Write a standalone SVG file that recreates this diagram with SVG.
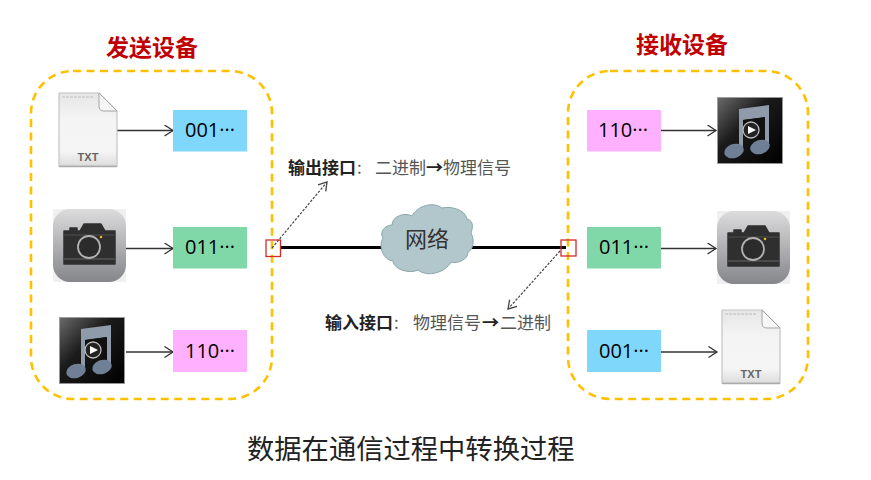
<svg xmlns="http://www.w3.org/2000/svg" width="871" height="480" viewBox="0 0 871 480">
<style>
.t{font-family:"Noto Sans CJK SC","Liberation Sans",sans-serif}
.h{font-size:23px;font-weight:700;fill:#c00000}
.l{font-size:17px;fill:#555}
.b{font-weight:700;fill:#222}
.n{font-family:"Open Sans","Liberation Sans",sans-serif;font-size:20px;fill:#000}
.box{fill:none;stroke:#ffc000;stroke-width:2.6;stroke-dasharray:8 5.5}
.a{fill:none;stroke:#333;stroke-width:1.4;marker-end:url(#ah)}
.d{fill:none;stroke:#444;stroke-width:1.2;stroke-dasharray:2.5 1.5;marker-end:url(#ahd)}
.r{fill:none;stroke:#d22b2b;stroke-width:1.3}
</style>
<defs>
<marker id="ah" markerUnits="userSpaceOnUse" markerWidth="12" markerHeight="14" refX="10" refY="6" orient="auto"><path d="M1.500 0.500L10 6L1.500 11.500" fill="none" stroke="#333" stroke-width="1.300"/></marker>
<marker id="ahd" markerUnits="userSpaceOnUse" markerWidth="12" markerHeight="14" refX="10" refY="6" orient="auto"><path d="M2 1L10 6L2 11" fill="none" stroke="#444" stroke-width="1.300"/></marker>
<linearGradient id="gf" x1="0" y1="0" x2="0" y2="1"><stop offset="0" stop-color="#e6e6e6"/><stop offset=".35" stop-color="#f4f4f4"/><stop offset=".8" stop-color="#f5f5f5"/><stop offset="1" stop-color="#dcdcdc"/></linearGradient>
<linearGradient id="gc" x1="0" y1="0" x2="0" y2="1"><stop offset="0" stop-color="#dcdcdd"/><stop offset="1" stop-color="#85868a"/></linearGradient>
<linearGradient id="gm" x1="0" y1="0" x2="1" y2="1"><stop offset="0" stop-color="#6a6a6a"/><stop offset=".4" stop-color="#1b1b1b"/><stop offset="1" stop-color="#000"/></linearGradient>
<symbol id="txt" viewBox="0 0 60 76" width="60" height="76" overflow="visible">
<path d="M1 1H41L59 19V74H1Z" fill="url(#gf)" stroke="#c4c4c4" stroke-width="1.200" stroke-linejoin="round"/>
<path d="M1 74.500H59" stroke="#aaa" stroke-width="1.500"/>
<path d="M41 1L59 19H46Q41 19 41 14Z" fill="#f6f6f6" stroke="#a5a5a5" stroke-width="1"/>
<path d="M4 5H36" stroke="#d3d3d3" stroke-width="2" stroke-dasharray="3 1"/>
<text x="30" y="69" text-anchor="middle" font-family="Liberation Sans,sans-serif" font-weight="700" font-size="11" fill="#666">TXT</text>
</symbol>
<symbol id="cam" viewBox="0 0 73 73" width="73" height="73" overflow="visible">
<rect width="73" height="73" fill="#f0f0f0"/>
<rect width="73" height="73" rx="17" fill="url(#gc)"/>
<path d="M11 22H17V19H24V22H27L31 15H48L52 22H62V55H11Z" fill="#2f2f2f" stroke="#2f2f2f" stroke-width="1.500" stroke-linejoin="round"/>
<path d="M11 50H62" stroke="#666" stroke-width="1"/><path d="M11 26H62" stroke="#555" stroke-width=".8"/>
<circle cx="36" cy="38" r="11" fill="#2b2b2b" stroke="#b2b2b2" stroke-width="1.800"/>
<circle cx="48" cy="28" r="1.300" fill="#e8b422"/>
</symbol>
<symbol id="mus" viewBox="0 0 66 67" width="66" height="67" overflow="visible">
<rect x=".5" y=".5" width="65" height="66" fill="url(#gm)" stroke="#999" stroke-width=".8"/>
<path d="M22 12L52 8V48H48V20L26 23V52H22Z" fill="#8f9aaa"/>
<path d="M26 23L48 20V35H26Z" fill="#111"/>
<ellipse cx="17" cy="54" rx="10" ry="7" fill="#6f8096" transform="rotate(-18 17 54)"/>
<ellipse cx="43" cy="50" rx="10" ry="7" fill="#6f8096" transform="rotate(-18 43 50)"/>
<circle cx="34" cy="33" r="8" fill="#222" stroke="#bbb" stroke-width="1.300"/>
<path d="M31 29L39 33L31 37Z" fill="#fff"/>
</symbol>
</defs>
<rect width="871" height="480" fill="#fff"/>
<g id="sender">
<rect class="box" x="31" y="71" width="241" height="328" rx="42"/>
<text class="t h" x="106" y="56">发送设备</text>
</g>
<g id="receiver">
<rect class="box" x="568" y="71" width="240" height="328" rx="42"/>
<text class="t h" x="636" y="53">接收设备</text>
</g>
<g id="connectors">
<path class="a" d="M116 130.500H173"/>
<path class="a" d="M126 248.500H173"/>
<path class="a" d="M126 352H173"/>
<path class="a" d="M659 130.500H716"/>
<path class="a" d="M659 248.500H716"/>
<path class="a" d="M661 352H717"/>
<path d="M280 247.500H386M468 247.500H566" stroke="#000" stroke-width="3" fill="none"/>
<path class="d" d="M272 248L327 182"/>
<path class="d" d="M560 251L508 309"/>
</g>
<g id="src-txt"><use href="#txt" x="58" y="92"/></g>
<g id="src-cam"><use href="#cam" x="53" y="209"/></g>
<g id="src-mus"><use href="#mus" x="59" y="317"/></g>
<g id="dst-mus"><use href="#mus" x="717" y="97"/></g>
<g id="dst-cam"><use href="#cam" x="717" y="211"/></g>
<g id="dst-txt"><use href="#txt" x="721" y="309"/></g>
<g id="b1"><rect x="173" y="110" width="74" height="41.500" fill="#7fd7fb"/><text class="n" x="185" y="137">001···</text></g>
<g id="b2"><rect x="173" y="227" width="74" height="41.500" fill="#80d8a8"/><text class="n" x="185" y="254">011···</text></g>
<g id="b3"><rect x="173" y="330" width="74" height="42" fill="#ffb1ff"/><text class="n" x="185" y="358">110···</text></g>
<g id="b4"><rect x="587" y="110" width="74" height="41.500" fill="#ffb1ff"/><text class="n" x="598" y="137">110···</text></g>
<g id="b5"><rect x="587" y="227" width="74" height="41.500" fill="#80d8a8"/><text class="n" x="599" y="254">011···</text></g>
<g id="b6"><rect x="587" y="330" width="74" height="42" fill="#7fd7fb"/><text class="n" x="599" y="358">001···</text></g>
<g id="out-port"><rect class="r" x="266" y="240" width="14.500" height="16.500"/></g>
<g id="in-port"><rect class="r" x="561" y="240" width="15" height="16"/></g>
<g id="cloud">
<path d="M392 225C392 216 405 212 412 216C417 206 433 201 442 208C450 206 465 209 467 219C475 221 472 230 471 233C475 240 473 250 468 252C468 260 457 264 451 262C446 272 428 278 418 270C410 274 394 270 393 261C383 260 378 246 383 238C379 232 385 225 392 225Z" fill="#b2c7cb" stroke="#8aa6aa" stroke-width="1"/>
<text class="t" x="427" y="247" text-anchor="middle" font-size="22" fill="#333">网络</text>
</g>
<g id="output-label"><text class="t l" y="174"><tspan class="b" x="288">输出接口</tspan><tspan x="357">:</tspan><tspan x="375">二进制</tspan><tspan class="b" x="426">→</tspan><tspan x="443">物理信号</tspan></text></g>
<g id="input-label"><text class="t l" y="329"><tspan class="b" x="325">输入接口</tspan><tspan x="394">:</tspan><tspan x="413">物理信号</tspan><tspan class="b" x="482">→</tspan><tspan x="500">二进制</tspan></text></g>
<g id="caption"><text class="t" x="247" y="459" font-size="27.300" fill="#222">数据在通信过程中转换过程</text></g>
</svg>
